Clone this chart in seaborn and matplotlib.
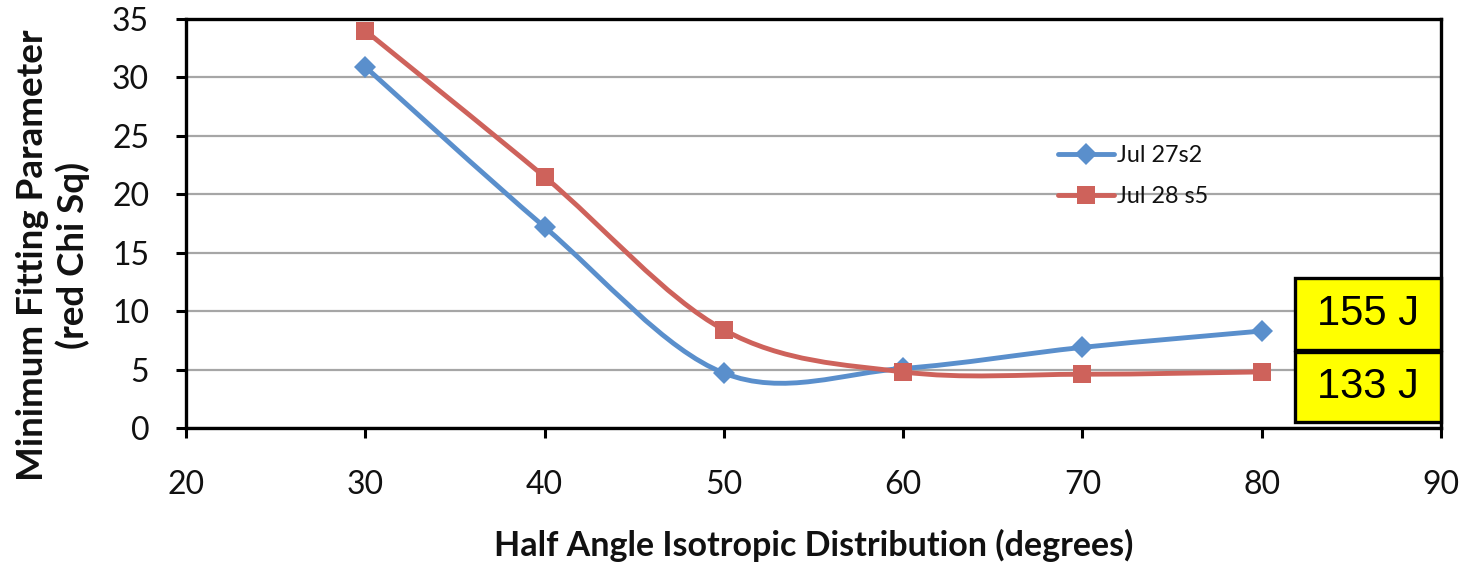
import matplotlib
matplotlib.use("Agg")
import matplotlib.pyplot as plt
from matplotlib.path import Path
from matplotlib.patches import PathPatch, Rectangle
from matplotlib.lines import Line2D
import seaborn as sns
import pandas as pd

# ---- data ----
angles = [30, 40, 50, 60, 70, 80]
jul27s2 = [30.9, 17.2, 4.7, 5.1, 6.9, 8.3]
jul28s5 = [34.0, 21.5, 8.4, 4.8, 4.6, 4.8]
series_names = ["Jul 27s2", "Jul 28 s5"]
box_labels = ["155 J", "133 J"]
x_ticks = [20, 30, 40, 50, 60, 70, 80, 90]
y_ticks = [0, 5, 10, 15, 20, 25, 30, 35]

blue = "#5A8FCC"
red = "#CE625B"

sns.set_theme(style="white")
plt.rcParams["font.family"] = ["Lato", "DejaVu Sans"]

fig = plt.figure(figsize=(14.68, 5.62), dpi=100)
ax = fig.add_axes([186 / 1468, 1 - 428 / 562, 1255 / 1468, 409 / 562])

df = pd.DataFrame({
    "angle": angles * 2,
    "value": jul27s2 + jul28s5,
    "series": [series_names[0]] * len(angles) + [series_names[1]] * len(angles),
})


def smooth_path(xs, ys):
    # Excel-style smoothed line: cubic Bezier segments through the data points
    pts = list(zip(xs, ys))
    n = len(pts)
    verts = [pts[0]]
    codes = [Path.MOVETO]
    for i in range(n - 1):
        p0 = pts[i - 1] if i > 0 else pts[i]
        p1 = pts[i]
        p2 = pts[i + 1]
        p3 = pts[i + 2] if i + 2 < n else pts[i + 1]
        c1 = (p1[0] + (p2[0] - p0[0]) / 6, p1[1] + (p2[1] - p0[1]) / 6)
        c2 = (p2[0] - (p3[0] - p1[0]) / 6, p2[1] - (p3[1] - p1[1]) / 6)
        verts += [c1, c2, p2]
        codes += [Path.CURVE4] * 3
    return Path(verts, codes)


styles = [(jul27s2, blue, "D", 11, 2), (jul28s5, red, "s", 13, 3)]
for name, (vals, col, mk, ms, z) in zip(series_names, styles):
    ax.add_patch(PathPatch(smooth_path(angles, vals), facecolor="none",
                           edgecolor=col, lw=3.5, zorder=z, capstyle="round"))
    sub = df[df["series"] == name]
    sns.lineplot(data=sub, x="angle", y="value", ax=ax, color=col,
                 marker=mk, markersize=ms, markeredgewidth=0, linestyle="",
                 zorder=z + 0.5, legend=False)

ax.set_xlim(20, 90)
ax.set_ylim(0, 35)
ax.set_xticks(x_ticks)
ax.set_yticks(y_ticks)
ax.yaxis.grid(True, color="#A6A6A6", lw=1.6)
ax.xaxis.grid(False)
ax.set_axisbelow(True)
for s in ax.spines.values():
    s.set_visible(True)
    s.set_color("black")
    s.set_linewidth(2.4)
ax.tick_params(axis="both", which="both", direction="out", length=7.5, width=2.2,
               colors="black", labelsize=23, left=True, bottom=True)
ax.tick_params(axis="y", pad=19)
ax.tick_params(axis="x", pad=23)
for lab in ax.get_xticklabels() + ax.get_yticklabels():
    lab.set_color("#111111")

ax.set_xlabel("")
ax.set_ylabel("")
fig.text(814 / 1468, 1 - 545 / 562, "Half Angle Isotropic Distribution (degrees)",
         ha="center", va="center", fontsize=24.5, fontweight="bold", color="#111111")
fig.text(53 / 1468, 1 - 255 / 562, "Minimum Fitting Parameter\n(red Chi Sq)",
         ha="center", va="center", rotation=90, fontsize=26.5, fontweight="bold",
         color="#111111", linespacing=1.25, multialignment="center")

handles = [Line2D([0], [0], color=blue, lw=3.5, marker="D", markersize=11, markeredgewidth=0),
           Line2D([0], [0], color=red, lw=3.5, marker="s", markersize=13, markeredgewidth=0)]
leg = ax.legend(handles, series_names, loc="upper left",
                bbox_to_anchor=(1058 / 1468, 1 - 145 / 562), bbox_transform=fig.transFigure,
                frameon=False, fontsize=16.8, handlelength=2.4, handletextpad=0.12,
                labelspacing=0.85, borderpad=0, borderaxespad=0)
for t in leg.get_texts():
    t.set_color("#111111")

# yellow energy boxes
x0 = (1295 - 186) / 1255
w = 1 - x0
boxes = [((428 - 350) / 409, (350 - 278) / 409), ((428 - 422) / 409, (422 - 352) / 409)]
for (y0, h), lab in zip(boxes, box_labels):
    ax.add_patch(Rectangle((x0, y0), w, h, transform=ax.transAxes, facecolor="#FFFF00",
                           edgecolor="black", lw=2.4, zorder=6, clip_on=False))
    ax.text(x0 + w / 2, y0 + h / 2, lab, transform=ax.transAxes, ha="center", va="center",
            fontsize=30, family=["Liberation Sans", "DejaVu Sans"], color="black", zorder=7)

fig.savefig("out.png", dpi=100)
